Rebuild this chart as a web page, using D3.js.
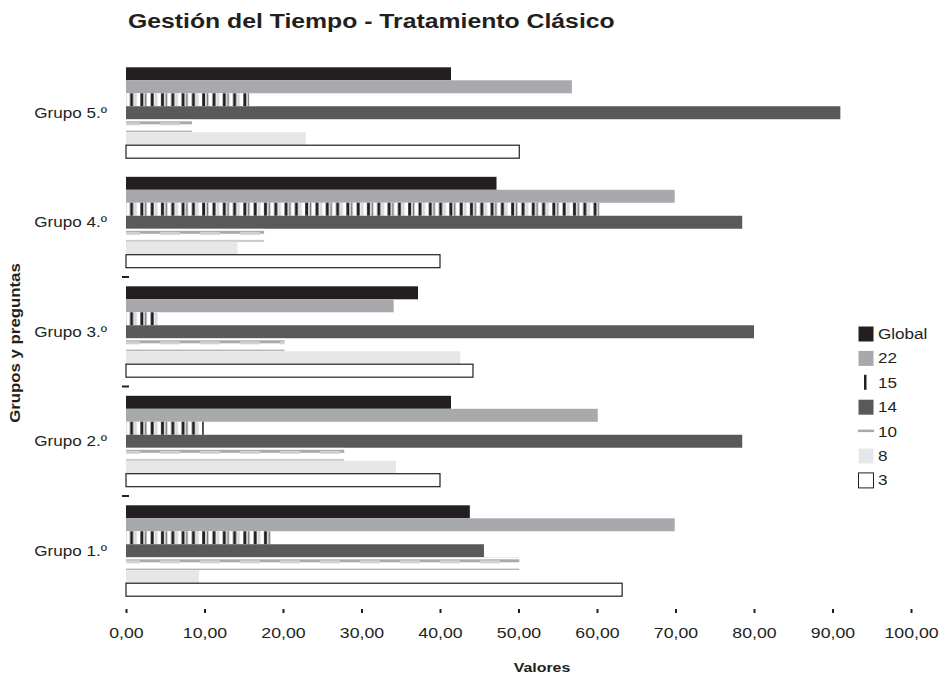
<!DOCTYPE html>
<meta charset="utf-8">
<style>
body { margin: 0; background: #fff; }
text { font-family: "Liberation Sans", Arial, sans-serif; fill: #231f20; }
</style>
<body>
<svg width="948" height="680"></svg>
</body>
<script src="https://d3js.org/d3.v7.min.js"></script>
<script>
// grupos de arriba a abajo
const groups = ["Grupo 5.º", "Grupo 4.º", "Grupo 3.º", "Grupo 2.º", "Grupo 1.º"];
const series = ["Global", "22", "15", "14", "10", "8", "3"];
const xTicks = [0, 10, 20, 30, 40, 50, 60, 70, 80, 90, 100];

// valores por serie, en el orden de groups
const vGlobal = [41.4, 47.2, 37.2, 41.4, 43.8];
const v22     = [56.8, 69.9, 34.1, 60.1, 69.9];
const v15     = [15.7, 60.3, 4.2, 9.9, 18.5];
const v14     = [91.0, 78.5, 80.0, 78.5, 45.6];
const v10     = [8.4, 17.6, 20.2, 27.8, 50.1];
const v8      = [22.9, 14.2, 42.6, 34.4, 9.3];
const v3      = [50.1, 40.0, 44.2, 40.0, 63.2];
const values = { "Global": vGlobal, "22": v22, "15": v15, "14": v14, "10": v10, "8": v8, "3": v3 };

const sx = 1.18; // el texto del original sale algo ensanchado

const svg = d3.select("svg");

// patrones
const defs = svg.append("defs");
const p15 = defs.append("pattern").attr("id", "p15")
  .attr("patternUnits", "userSpaceOnUse").attr("width", 20.6).attr("height", 13);
p15.append("rect").attr("width", 20.6).attr("height", 13).attr("fill", "#fff");
p15.append("rect").attr("x", 0).attr("width", 3).attr("height", 13).attr("fill", "#cfcfcf");
p15.append("rect").attr("x", 1).attr("width", 1).attr("height", 13).attr("fill", "#777");
p15.append("rect").attr("x", 6.5).attr("width", 3).attr("height", 13).attr("fill", "#231f20");
p15.append("rect").attr("x", 10.3).attr("width", 3).attr("height", 13).attr("fill", "#d8d8d8");
p15.append("rect").attr("x", 16.8).attr("width", 3).attr("height", 13).attr("fill", "#231f20");

const p10 = defs.append("pattern").attr("id", "p10")
  .attr("patternUnits", "userSpaceOnUse").attr("width", 40).attr("height", 13);
p10.append("rect").attr("width", 40).attr("height", 13).attr("fill", "#fff");
p10.append("rect").attr("y", 2).attr("width", 40).attr("height", 3).attr("fill", "#a7a9ac");
p10.append("rect").attr("y", 3).attr("width", 20).attr("height", 3).attr("fill", "#cfd0d2");
p10.append("rect").attr("y", 11.5).attr("width", 40).attr("height", 1.5).attr("fill", "#a7a9ac");

const fills = {
  "Global": "#231f20", "22": "#a7a9ac", "15": "url(#p15)", "14": "#58595b",
  "10": "url(#p10)", "8": "#e6e7e8", "3": "#fff"
};

const x = d3.scaleLinear().domain([0, 100]).range([126, 911]);
const y0 = d3.scaleBand().domain(groups).range([58, 605.5])
  .paddingInner(0.17).paddingOuter(0.085);
const y1 = d3.scaleBand().domain(series).range([0, y0.bandwidth()]);

const g = svg.append("g");
groups.forEach((grp, gi) => {
  const gg = g.append("g").attr("transform", `translate(0,${y0(grp)})`);
  gg.selectAll("rect")
    .data(series.map(s => ({ s: s, v: values[s][gi] })))
    .join("rect")
    .attr("x", x(0))
    .attr("y", d => y1(d.s))
    .attr("width", d => x(d.v) - x(0))
    .attr("height", y1.bandwidth())
    .attr("fill", d => fills[d.s])
    .attr("stroke", d => d.s === "3" ? "#231f20" : "none")
    .attr("stroke-width", 1.2);
});

// marcas entre grupos
const sepGroups = groups.slice(1, 4);
g.selectAll("line.sep").data(sepGroups).join("line")
  .attr("class", "sep")
  .attr("x1", x(0) - 4).attr("x2", x(0) + 3)
  .attr("y1", d => y0(d) + y0.bandwidth() + (y0.step() - y0.bandwidth()) / 2)
  .attr("y2", d => y0(d) + y0.bandwidth() + (y0.step() - y0.bandwidth()) / 2)
  .attr("stroke", "#231f20").attr("stroke-width", 2);

// etiquetas de grupo
g.selectAll("text.grp").data(groups).join("text")
  .attr("class", "grp")
  .attr("transform", d => `translate(107,${y0(d) + y0.bandwidth() / 2}) scale(${sx},1)`)
  .attr("dy", "0.35em")
  .attr("text-anchor", "end")
  .attr("font-size", 14.5)
  .text(d => d);

// eje x
const esLocale = d3.formatLocale({ decimal: ",", thousands: ".", grouping: [3], currency: ["", "€"] });
const xAxis = d3.axisBottom(x).tickValues(xTicks)
  .tickFormat(esLocale.format(".2f")).tickSize(4).tickPadding(14);
const ax = svg.append("g").attr("transform", "translate(0,609)").call(xAxis);
ax.select(".domain").remove();
ax.selectAll(".tick line").attr("stroke", "#231f20").attr("stroke-width", 2);
ax.selectAll(".tick text").attr("font-size", 15)
  .attr("font-family", "Liberation Sans, Arial, sans-serif").attr("fill", "#231f20")
  .attr("transform", `scale(${sx},1)`);

// títulos
svg.append("text").attr("transform", `translate(128,28) scale(${sx},1)`)
  .attr("font-size", 21).attr("font-weight", "bold")
  .text("Gestión del Tiempo - Tratamiento Clásico");

svg.append("text").attr("transform", `translate(542,672) scale(${sx},1)`)
  .attr("text-anchor", "middle").attr("font-size", 13.5).attr("font-weight", "bold")
  .text("Valores");

svg.append("text")
  .attr("transform", `translate(20,343) rotate(-90) scale(1.2,1)`)
  .attr("text-anchor", "middle").attr("font-size", 14).attr("font-weight", "bold")
  .text("Grupos y preguntas");

// leyenda
const leg = svg.append("g").attr("transform", "translate(858,326)");
const li = leg.selectAll("g").data(series).join("g")
  .attr("transform", (d, i) => `translate(0,${i * 24.4})`);
li.each(function (d) {
  const e = d3.select(this);
  if (d === "15") {
    e.append("rect").attr("x", 6).attr("y", 0).attr("width", 2.5).attr("height", 15).attr("fill", "#231f20");
  } else if (d === "10") {
    e.append("rect").attr("x", 0).attr("y", 6).attr("width", 16).attr("height", 2.5).attr("fill", "#a7a9ac");
  } else {
    e.append("rect").attr("x", 0.5).attr("y", 0.5).attr("width", 15).attr("height", 15)
      .attr("fill", fills[d]).attr("stroke", d === "3" ? "#231f20" : "none");
  }
});
li.append("text").attr("transform", `translate(20,8) scale(${sx},1)`).attr("dy", "0.35em")
  .attr("font-size", 14.5).text(d => d);
</script>
